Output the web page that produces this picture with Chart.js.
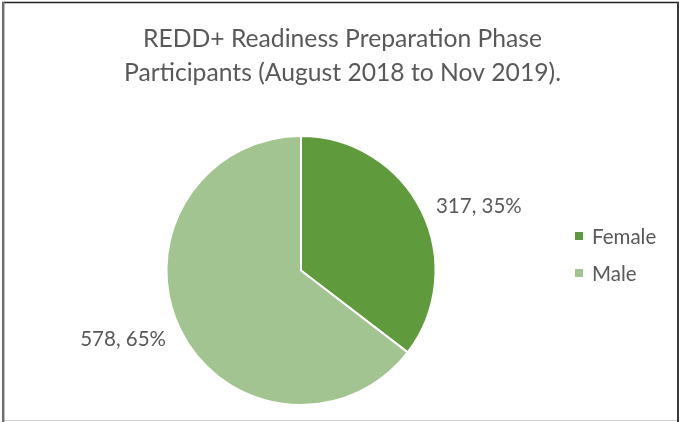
<!DOCTYPE html>
<html>
<head>
<meta charset="utf-8">
<script src="https://cdn.jsdelivr.net/npm/chart.js@4.4.1/dist/chart.umd.min.js"></script>
<style>
  html, body { margin: 0; padding: 0; background: #fff; }
  #wrap { width: 681px; height: 422px; }
</style>
</head>
<body>
<div id="wrap"><canvas id="pieChart" width="681" height="422"></canvas></div>
<script>
const titleLines = ['REDD+ Readiness Preparation Phase', 'Participants (August 2018 to Nov 2019).'];
const categories = ['Female', 'Male'];
const participants = [317, 578];
const percents = [35, 65];
const sliceColors = ['#5f9a3c', '#a1c490'];

const textColor = '#595959';
const fontFamily = 'Lato, "Liberation Sans", sans-serif';

function line(c, color, w, x1, y1, x2, y2) {
    c.strokeStyle = color;
    c.lineWidth = w;
    c.beginPath();
    c.moveTo(x1, y1);
    c.lineTo(x2, y2);
    c.stroke();
}

// white bg, frame edges and the title (centred on the whole frame, not the plot)
const framePlugin = {
    id: 'frame',
    beforeDraw(chart) {
        const c = chart.ctx;
        c.save();
        c.fillStyle = '#fff';
        c.fillRect(0, 0, chart.width, chart.height);
        line(c, '#cfcfcf', 1, 2, 420.5, 679, 420.5);
        line(c, '#222', 1.5, 2, 2.5, 679, 2.5);
        line(c, '#6f6f6f', 2.5, 3.2, 2, 3.2, 422);
        line(c, '#3a3a3a', 2, 678, 2, 678, 422);
        c.font = '24.7px ' + fontFamily;
        c.fillStyle = textColor;
        c.textAlign = 'center';
        c.textBaseline = 'alphabetic';
        c.fillText(titleLines[0], 342.5, 47);
        c.fillText(titleLines[1], 342.5, 81);
        c.restore();
    }
};

// "value, pct%" labels outside the slices + legend on the right
const labelPlugin = {
    id: 'sliceLabels',
    afterDatasetsDraw(chart) {
        const c = chart.ctx;
        const meta = chart.getDatasetMeta(0);
        c.save();
        c.font = '20.5px ' + fontFamily;
        c.fillStyle = textColor;
        c.textBaseline = 'middle';
        meta.data.forEach((arc, i) => {
            const p = arc.getProps(['x', 'y', 'startAngle', 'endAngle', 'outerRadius'], true);
            const mid = (p.startAngle + p.endAngle) / 2;
            const d = p.outerRadius + 16;
            const x = p.x + Math.cos(mid) * d;
            const y = p.y + Math.sin(mid) * d + 2;
            c.textAlign = Math.cos(mid) >= 0 ? 'left' : 'right';
            c.fillText(participants[i] + ', ' + percents[i] + '%', x, y);
        });
        const lx = 575, ly = [236, 273];
        categories.forEach((name, i) => {
            c.fillStyle = sliceColors[i];
            c.fillRect(lx, ly[i] - 4, 8, 8);
            c.fillStyle = textColor;
            c.textAlign = 'left';
            c.fillText(name, lx + 17, ly[i] + 1);
        });
        c.restore();
    }
};

const ctx = document.getElementById('pieChart').getContext('2d');
const pieChart = new Chart(ctx, {
    type: 'pie',
    data: {
        labels: categories,
        datasets: [{
            data: participants,
            backgroundColor: sliceColors,
            borderColor: '#ffffff',
            borderWidth: 2
        }]
    },
    options: {
        responsive: false,
        animation: false,
        layout: {
            padding: { left: 20, right: 99, top: 135, bottom: 16 }
        },
        plugins: {
            legend: { display: false },
            tooltip: { enabled: false },
            title: { display: false }
        }
    },
    plugins: [framePlugin, labelPlugin]
});
</script>
</body>
</html>
